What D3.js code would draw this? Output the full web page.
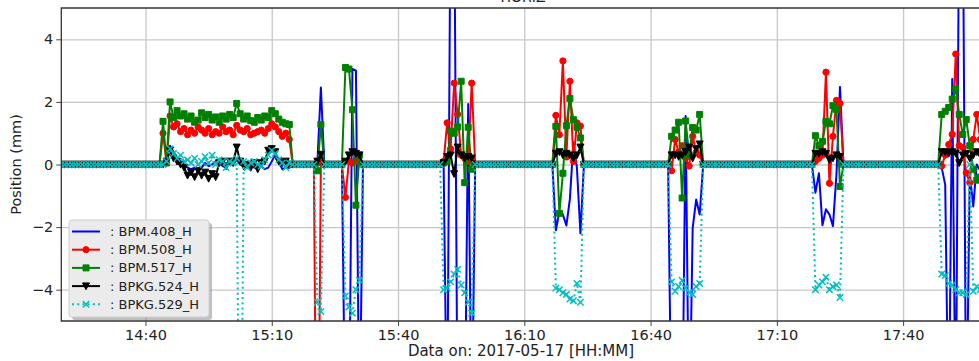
<!DOCTYPE html>
<html>
<head>
<meta charset="utf-8">
<title>BPM positions</title>
<style>
  body { margin: 0; background: #fff; }
  svg { display: block; font-family: "DejaVu Sans", sans-serif; }
</style>
</head>
<body>
<div id="chart"></div>
<script src="https://d3js.org/d3.v7.min.js"></script>
<script>
// sampling of the logger: one reading every 50 s from 14:20
const startTime = "2017-05-17 14:20:00";
const endTime = "2017-05-17 18:00:00";
const sampleSeconds = 50;
const tickLabels = ["14:40", "15:10", "15:40", "16:10", "16:40", "17:10", "17:40"];
const yTicks = [-4, -2, 0, 2, 4];
const seriesNames = ["BPM.408_H", "BPM.508_H", "BPM.517_H", "BPKG.524_H", "BPKG.529_H"];

const bpm408 = [
  0,0,0,0,0,0,0,0,0,0, 0,0,0,0,0,0,0,0,0,0, 0,0,0,0,0,0,0,0,0,
  0.05,0.1,0.6,0.4,0.2,0.1,0,-0.1,-0.15,-0.1, -0.2,-0.1,0.05,-0.05,0,0.1,0.05,-0.05,-0.1,0.1,
  0.05,0.15,0,-0.05,-0.1,-0.05,-0.1,0,-0.05,-0.15, -0.1,0.1,0.3,0.1,-0.15,-0.1,-0.1,
  0,0,0,0,0,0,0,
  0.05,2.46,
  0,0,0,0,0,0,
  -9,-9,3.05,3.0,-9,
  0,0,0,0,0,0,0,0,0,0, 0,0,0,0,0,0,0,0,0,0, 0,0,0,
  0,-9,9,9,-9,-9,-9,1.93,-9,
  0,0,0,0,0,0,0,0,0,0, 0,0,0,0,0,0,0,0,0,0, 0,0,0,
  -2.1,-1.5,-1.6,-1.95,-1.1,0.7,-0.1,-2.2,
  0,0,0,0,0,0,0,0,0,0, 0,0,0,0,0,0,0,0,0,0, 0,0,0,0,0,
  -9,-9,-9,-9,1.55,-9,-2.03,-1.12,-1.6,
  0,0,0,0,0,0,0,0,0,0, 0,0,0,0,0,0,0,0,0,0, 0,0,0,0,0,0,0,0,0,0, 0,0,
  -0.9,-0.28,-1.94,-1.43,-1.6,-1.97,-0.3,2.48,
  0,0,0,0,0,0,0,0,0,0, 0,0,0,0,0,0,0,0,0,0, 0,0,0,0,0,0,0,0,
  -0.1,-0.65,-9,2.73,-9,9,9,-9,-0.3,-1.34,0,-0.2,0.1
];

const bpm508 = [
  0,0,0,0,0,0,0,0,0,0, 0,0,0,0,0,0,0,0,0,0, 0,0,0,0,0,0,0,0,0,
  1.0,0.05,1.55,1.2,1.3,1.05,1.15,0.95,1.1,1.0, 1.2,1.1,1.0,1.15,0.95,1.05,1.0,1.2,1.05,1.1,
  0.95,1.25,1.1,1.05,1.15,0.95,1.0,1.05,1.1,1.0, 1.15,1.3,1.2,1.05,0.9,1.0,0.8,
  0,0,0,0,0,0,0,
  -14,0.05,
  0,0,0,0,0,0,
  -1.05,0.1,0.05,0.15,0.05,
  0,0,0,0,0,0,0,0,0,0, 0,0,0,0,0,0,0,0,0,0, 0,0,0,
  0.1,1.33,0.5,2.6,1.6,0.3,0.2,0.1,2.6,
  0,0,0,0,0,0,0,0,0,0, 0,0,0,0,0,0,0,0,0,0, 0,0,0,
  1.57,0.95,3.31,0.24,2.66,0.1,1.33,1.23,
  0,0,0,0,0,0,0,0,0,0, 0,0,0,0,0,0,0,0,0,0, 0,0,0,0,0,
  -0.2,0.8,0.4,0.6,0.2,-0.05,0.9,0.4,0.3,
  0,0,0,0,0,0,0,0,0,0, 0,0,0,0,0,0,0,0,0,0, 0,0,0,0,0,0,0,0,0,0, 0,0,
  0.1,0.2,0.3,2.95,-0.6,0.9,2.05,1.95,
  0,0,0,0,0,0,0,0,0,0, 0,0,0,0,0,0,0,0,0,0, 0,0,0,0,0,0,0,0,
  -0.05,0.3,0.64,0.96,3.53,0.6,0.54,-0.27,-0.58,0.8,1.6,0.8,0.5
];

const bpm517 = [
  0,0,0,0,0,0,0,0,0,0, 0,0,0,0,0,0,0,0,0,0, 0,0,0,0,0,0,0,0,0,
  1.38,0.05,2.0,1.5,1.72,1.55,1.62,1.45,1.55,1.35, 1.42,1.65,1.5,1.6,1.42,1.52,1.35,1.55,1.45,1.6,
  1.5,1.95,1.62,1.45,1.55,1.4,1.35,1.5,1.42,1.55, 1.5,1.72,1.62,1.45,1.35,1.3,1.28,
  0,0,0,0,0,0,0,
  -0.2,1.28,
  0,0,0,0,0,0,
  3.1,3.05,1.75,-1.3,0.3,
  0,0,0,0,0,0,0,0,0,0, 0,0,0,0,0,0,0,0,0,0, 0,0,0,
  0.05,0.1,1.07,1.0,1.2,2.66,-0.58,1.19,-0.15,
  0,0,0,0,0,0,0,0,0,0, 0,0,0,0,0,0,0,0,0,0, 0,0,0,
  1.22,-1.56,-0.28,1.24,2.11,1.43,1.19,0.85,
  0,0,0,0,0,0,0,0,0,0, 0,0,0,0,0,0,0,0,0,0, 0,0,0,0,0,
  0.9,1.1,1.35,-1.07,1.39,0.3,1.18,1.1,1.6,
  0,0,0,0,0,0,0,0,0,0, 0,0,0,0,0,0,0,0,0,0, 0,0,0,0,0,0,0,0,0,0, 0,0,
  0.92,0.6,0.74,1.38,1.3,1.88,1.76,-0.7,
  0,0,0,0,0,0,0,0,0,0, 0,0,0,0,0,0,0,0,0,0, 0,0,0,0,0,0,0,0,
  1.6,1.7,1.82,2.09,2.41,1.6,0.96,1.44,0.6,-0.15,-0.5,-0.4,-0.3
];

const bpkg524 = [
  0,0,0,0,0,0,0,0,0,0, 0,0,0,0,0,0,0,0,0,0, 0,0,0,0,0,0,0,0,0,
  0,0.1,0.45,0.2,0.1,0,-0.1,-0.35,-0.25,-0.4, -0.2,-0.35,-0.25,-0.45,-0.3,-0.4,0.05,0.1,-0.05,0.1,
  0.05,0.55,0.1,-0.05,0,-0.1,0.05,-0.15,0.05,0.1, 0.45,0.5,0.4,0.1,0.05,0.1,0,
  0,0,0,0,0,0,0,
  0.1,0.32,
  0,0,0,0,0,0,
  0.1,0.3,0.4,0.35,0.3,
  0,0,0,0,0,0,0,0,0,0, 0,0,0,0,0,0,0,0,0,0, 0,0,0,
  0.05,0.25,0.3,-0.3,0.55,0.3,0.2,0.25,0.2,
  0,0,0,0,0,0,0,0,0,0, 0,0,0,0,0,0,0,0,0,0, 0,0,0,
  0.35,0.4,0.3,0.35,0.3,0.2,0.3,0.55,
  0,0,0,0,0,0,0,0,0,0, 0,0,0,0,0,0,0,0,0,0, 0,0,0,0,0,
  0.3,0.3,0.25,0.3,0.4,0.55,0.2,0.5,0.65,
  0,0,0,0,0,0,0,0,0,0, 0,0,0,0,0,0,0,0,0,0, 0,0,0,0,0,0,0,0,0,0, 0,0,
  0.35,0.35,0.4,0.35,0.15,0.2,0.3,0.25,
  0,0,0,0,0,0,0,0,0,0, 0,0,0,0,0,0,0,0,0,0, 0,0,0,0,0,0,0,0,
  0.4,0.4,0.35,0.4,0.35,0.05,0.3,0.35,0.2,0.3,0.4,0.3,0.35
];

const bpkg529 = [
  0,0,0,0,0,0,0,0,0,0, 0,0,0,0,0,0,0,0,0,0, 0,0,0,0,0,0,0,0,0,
  0,0.1,0.5,0.35,0.2,0.3,0.1,0.15,0.05,0.2, 0,0.1,0.25,0.05,0.3,0,0.15,0.1,-0.1,0.1,
  0.05,0.2,-14,0.1,-0.1,0.05,0.1,0,-0.05,0.15, 0.3,0.45,0.35,0.15,0.05,-0.1,0.05,
  0,0,0,0,0,0,0,
  -4.4,-4.7,
  0,0,0,0,0,0,
  -4.2,-4.55,-4.75,-4.0,-3.7,
  0,0,0,0,0,0,0,0,0,0, 0,0,0,0,0,0,0,0,0,0, 0,0,0,
  -4.0,-3.95,-3.75,-3.5,-3.35,-3.85,-4.1,-4.4,-4.75,
  0,0,0,0,0,0,0,0,0,0, 0,0,0,0,0,0,0,0,0,0, 0,0,0,
  -3.95,-4.0,-4.1,-4.15,-4.3,-4.35,-3.8,-4.4,
  0,0,0,0,0,0,0,0,0,0, 0,0,0,0,0,0,0,0,0,0, 0,0,0,0,0,
  -3.75,-4.05,-3.9,-3.7,-3.95,-4.1,-4.15,-3.9,-3.8,
  0,0,0,0,0,0,0,0,0,0, 0,0,0,0,0,0,0,0,0,0, 0,0,0,0,0,0,0,0,0,0, 0,0,
  -4.0,-3.85,-3.75,-3.6,-4.0,-3.9,-3.85,-4.25,
  0,0,0,0,0,0,0,0,0,0, 0,0,0,0,0,0,0,0,0,0, 0,0,0,0,0,0,0,0,
  -3.5,-3.55,-3.8,-3.85,-4.0,-4.1,-4.1,-4.15,0,-4.05,-3.9,-4.0,-3.8
];

const width = 979;
const height = 361;
const plot = {left: 61.3, right: 987.3, top: 8, bottom: 321};

const parseTime = d3.timeParse("%Y-%m-%d %H:%M:%S");
const parseTick = d3.timeParse("%Y-%m-%d %H:%M");
const t0 = parseTime(startTime);
const times = bpm408.map((_, i) => new Date(t0.getTime() + i * sampleSeconds * 1000));
const tickDates = tickLabels.map(t => parseTick("2017-05-17 " + t));

const x = d3.scaleTime()
    .domain([t0, parseTime(endTime)])
    .range([plot.left, plot.right]);
const y = d3.scaleLinear()
    .domain([-5, 5])
    .range([plot.bottom, plot.top]);

// matplotlib-like styles
const series = [
  {name: seriesNames[0], values: bpm408, color: "#0000ff", marker: null},
  {name: seriesNames[1], values: bpm508, color: "#ff0000", marker: "circle"},
  {name: seriesNames[2], values: bpm517, color: "#008000", marker: "square"},
  {name: seriesNames[3], values: bpkg524, color: "#000000", marker: "tri"},
  {name: seriesNames[4], values: bpkg529, color: "#00bfbf", marker: "x", dash: "2,3.2"}
];

const markerPath = {
  circle: d3.symbol(d3.symbolCircle, Math.PI * 3.1 * 3.1)(),
  square: d3.symbol(d3.symbolSquare, 36)(),
  tri: "M-3.5,-3.2L3.5,-3.2L0,3.6Z",
  x: "M-3.2,-3.2L3.2,3.2M-3.2,3.2L3.2,-3.2"
};

const svg = d3.select("#chart").append("svg")
    .attr("width", width)
    .attr("height", height);

svg.append("defs").append("clipPath").attr("id", "clip")
  .append("rect")
    .attr("x", plot.left).attr("y", plot.top)
    .attr("width", plot.right - plot.left)
    .attr("height", plot.bottom - plot.top);

// grid
svg.append("g")
    .attr("transform", `translate(0,${plot.bottom})`)
    .call(d3.axisBottom(x).tickValues(tickDates).tickSize(-(plot.bottom - plot.top)).tickFormat(""))
    .call(g => g.select(".domain").remove())
    .call(g => g.selectAll("line").attr("stroke", "#c8c8c8").attr("stroke-width", 1.3));
svg.append("g")
    .attr("transform", `translate(${plot.left},0)`)
    .call(d3.axisLeft(y).tickValues(yTicks).tickSize(-(plot.right - plot.left)).tickFormat(""))
    .call(g => g.select(".domain").remove())
    .call(g => g.selectAll("line").attr("stroke", "#c8c8c8").attr("stroke-width", 1.3));

// series
const lines = svg.append("g").attr("clip-path", "url(#clip)");
series.forEach(s => {
  const line = d3.line()
      .x((d, i) => x(times[i]))
      .y(d => y(d));
  lines.append("path")
      .datum(s.values)
      .attr("fill", "none")
      .attr("stroke", s.color)
      .attr("stroke-width", 2)
      .attr("stroke-linejoin", "round")
      .attr("stroke-dasharray", s.dash || null)
      .attr("d", line);
  if (s.marker) {
    lines.append("g")
      .selectAll("path")
      .data(s.values)
      .join("path")
        .attr("transform", (d, i) => `translate(${x(times[i])},${y(d)})`)
        .attr("d", markerPath[s.marker])
        .attr("fill", s.marker === "x" ? "none" : s.color)
        .attr("stroke", s.color)
        .attr("stroke-width", s.marker === "x" ? 1.5 : 1);
  }
});

// axes
svg.append("g")
    .attr("transform", `translate(0,${plot.bottom})`)
    .call(d3.axisBottom(x).tickValues(tickDates).tickFormat(d3.timeFormat("%H:%M")).tickSize(5).tickPadding(4))
    .call(g => g.select(".domain").remove())
    .call(g => g.selectAll("line").attr("stroke", "#444"))
    .call(g => g.selectAll("text").attr("font-size", 14.5).attr("fill", "#222")
        .attr("font-family", "DejaVu Sans, sans-serif"));
svg.append("g")
    .attr("transform", `translate(${plot.left},0)`)
    .call(d3.axisLeft(y).tickValues(yTicks).tickFormat(d => d < 0 ? "\u2212" + Math.abs(d) : d).tickSize(5).tickPadding(3))
    .call(g => g.select(".domain").remove())
    .call(g => g.selectAll("line").attr("stroke", "#444"))
    .call(g => g.selectAll("text").attr("font-size", 14.5).attr("fill", "#222")
        .attr("font-family", "DejaVu Sans, sans-serif"));

// spines
svg.append("path")
    .attr("d", `M${plot.right},${plot.top}H${plot.left}V${plot.bottom}H${plot.right}`)
    .attr("fill", "none")
    .attr("stroke", "#333")
    .attr("stroke-width", 1.3);

// titles (the plot title sits above the page edge, as in the source image)
svg.append("text")
    .attr("x", 523).attr("y", 1.5)
    .attr("text-anchor", "middle")
    .attr("font-size", 14)
    .attr("fill", "#222")
    .text("HORIZ");
svg.append("text")
    .attr("x", 521).attr("y", 356)
    .attr("text-anchor", "middle")
    .attr("font-size", 15)
    .attr("fill", "#222")
    .text("Data on: 2017-05-17 [HH:MM]");
svg.append("text")
    .attr("transform", `translate(21,${(plot.top + plot.bottom) / 2}) rotate(-90)`)
    .attr("text-anchor", "middle")
    .attr("font-size", 14.5)
    .attr("fill", "#222")
    .text("Position (mm)");

// legend
const legend = svg.append("g").attr("transform", "translate(69,220)");
legend.append("rect")
    .attr("x", 3).attr("y", 3)
    .attr("width", 140).attr("height", 97).attr("rx", 3)
    .attr("fill", "#8c8c8c").attr("opacity", 0.55);
legend.append("rect")
    .attr("width", 140).attr("height", 97).attr("rx", 3)
    .attr("fill", "#ebebeb").attr("stroke", "#cfcfcf");
const rows = legend.selectAll("g.row")
  .data(series)
  .join("g")
    .attr("transform", (d, i) => `translate(0,${11.5 + i * 18.2})`);
rows.append("line")
    .attr("x1", 3).attr("x2", 31)
    .attr("stroke", d => d.color)
    .attr("stroke-width", 2)
    .attr("stroke-dasharray", d => d.dash || null);
rows.filter(d => d.marker).append("path")
    .attr("transform", "translate(17,0)")
    .attr("d", d => markerPath[d.marker])
    .attr("fill", d => d.marker === "x" ? "none" : d.color)
    .attr("stroke", d => d.color)
    .attr("stroke-width", d => d.marker === "x" ? 1.5 : 1);
rows.append("text")
    .attr("x", 41)
    .attr("dy", "0.35em")
    .attr("font-size", 13)
    .attr("fill", "#222")
    .text(d => ": " + d.name);
</script>
</body>
</html>
